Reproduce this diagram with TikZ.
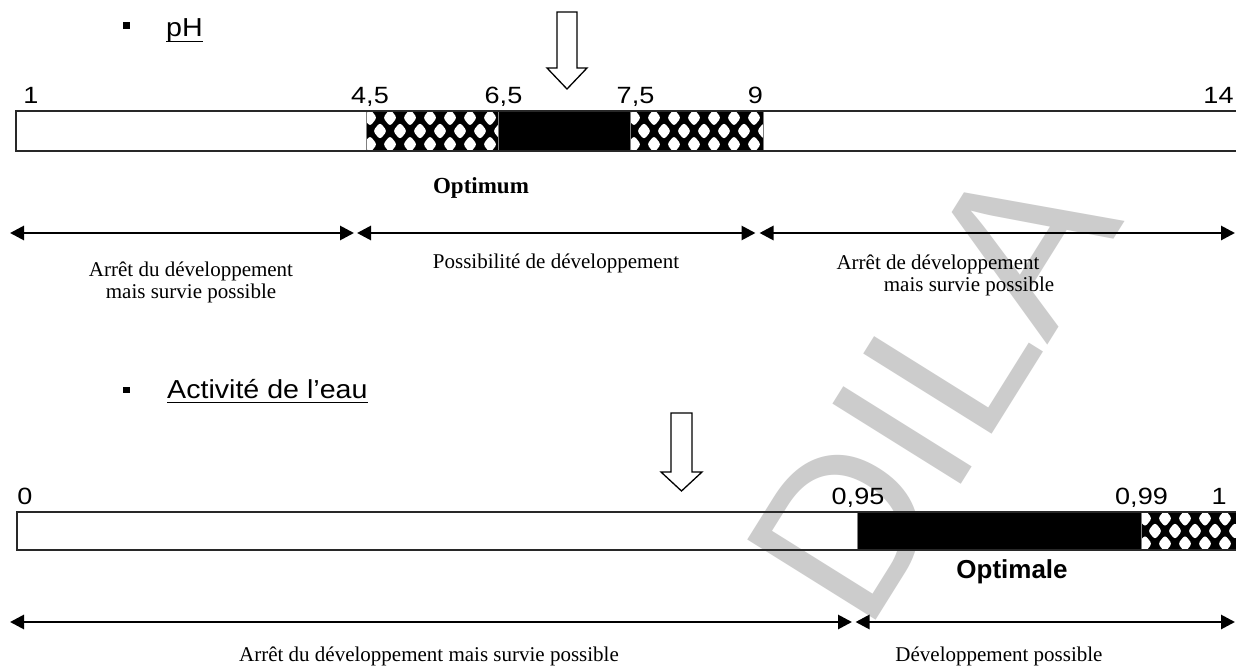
\documentclass[tikz,border=0pt]{standalone}
\usepackage{fontspec}
\setmainfont{Liberation Serif}
\newfontfamily\arialfont{Liberation Sans}
\usetikzlibrary{arrows.meta}

\definecolor{wm}{RGB}{204,204,204}
\definecolor{edge}{RGB}{40,40,40}

\tikzset{
  barline/.style={draw=edge, line width=1.2pt},
  segline/.style={draw=gray, line width=0.8pt},
  num/.style={anchor=base, inner sep=0pt, font=\arialfont\fontsize{23.5}{28}\selectfont},
  headtxt/.style={anchor=base west, inner sep=0pt, font=\arialfont\fontsize{26}{30}\selectfont},
  lbl/.style={anchor=base, inner sep=0pt, font=\fontsize{21}{25}\selectfont},
  span/.style={line width=2.8pt,
    {Triangle[length=14pt,width=14pt]}-{Triangle[length=14pt,width=14pt]}},
  pointer/.style={draw=black, line width=1.3pt, fill=white, line join=miter},
  bulletsq/.style={fill=black, inner sep=0pt, minimum size=6.5pt},
  uline/.style={line width=1.4pt},
}

% lattice fill: black ground with staggered rows of white lozenges
\newcommand\hatchfill[4]{%
  \begin{scope}
    \clip (#1,#2) rectangle (#3,#4);
    \fill[black] (#1,#2) rectangle (#3,#4);
    \pgfmathsetmacro\rowgap{(#4-#2)/3}
    \foreach \r in {-1,0,1,2,3}{
      \foreach \c in {-1,0,...,7}{
        \pgfmathsetmacro\cx{#1+4+20*\c+10*mod(\r+2,2)}
        \pgfmathsetmacro\cy{#2+\rowgap/2+\rowgap*\r}
        \fill[white, rounded corners=3pt] (\cx-7,\cy) -- (\cx,\cy-8.6)
          -- (\cx+7,\cy) -- (\cx,\cy+8.6) -- cycle;
      }}
  \end{scope}}

\begin{document}
\begin{tikzpicture}[x=1pt,y=-1pt]
\useasboundingbox (0,0) rectangle (1236,666);
\fill[white] (0,0) rectangle (1236,666);

% ---------- white grounds of the two scales ----------
\fill[white] (16,111) rectangle (1236,151);
\fill[white] (17,511) rectangle (1236,549);

% ---------- watermark ----------
\node[rotate=58, anchor=base west, inner sep=0pt, text=wm,
      font=\arialfont\fontsize{220}{220}\selectfont] (stamp) at (866,636) {DILA};

% ---------- pH ----------
\node[bulletsq] (b1) at (126.3,25.5) {};
\node[headtxt] (ph) at (166,37) {\scalebox{1.1}[1]{pH}};
\draw[uline] ([yshift=-4.5pt]ph.base west) -- ([yshift=-4.5pt]ph.base east);

\draw[pointer] (557,12) -- (577,12) -- (577,68) -- (587,68) -- (567,89)
  -- (547,68) -- (557,68) -- cycle;

\node[num] (n1)  at (31,104)   {\scalebox{1.15}[1]{1}};
\node[num] (n45) at (370,104)  {\scalebox{1.15}[1]{4,5}};
\node[num] (n65) at (503.5,104){\scalebox{1.15}[1]{6,5}};
\node[num] (n75) at (635.5,104){\scalebox{1.15}[1]{7,5}};
\node[num] (n9)  at (755.5,104){\scalebox{1.15}[1]{9}};
\node[num] (n14) at (1218.5,104){\scalebox{1.15}[1]{14}};

\hatchfill{366}{111}{498}{151}
\fill[black] (498,111) rectangle (630,151);
\hatchfill{630}{111}{763}{151}
\foreach \x in {366,498,630,763} \draw[segline] (\x,111) -- (\x,151);
\draw[barline] (1236,111) -- (16,111) -- (16,151) -- (1236,151);

\node[lbl, font=\bfseries\fontsize{23}{27}\selectfont] (opt) at (481,193) {Optimum};

\coordinate (pa) at (10,233);
\coordinate (pb) at (354,233);
\coordinate (pc) at (357,233);
\coordinate (pd) at (755.5,233);
\coordinate (pe) at (759.5,233);
\coordinate (pf) at (1235,233);
\draw[span] (pa) -- (pb);
\draw[span] (pc) -- (pd);
\draw[span] (pe) -- (pf);

\node[lbl] (l1a) at (191,276) {Arrêt du développement};
\node[lbl] (l1b) at (191,298) {mais survie possible};
\node[lbl] (l2)  at (556,268) {Possibilité de développement};
\node[lbl] (l3a) at (938,269) {Arrêt de développement};
\node[lbl] (l3b) at (969,291) {mais survie possible};

% ---------- Activité de l'eau ----------
\node[bulletsq] (b2) at (126.3,390) {};
\node[headtxt] (aw) at (167,398) {\scalebox{1.1}[1]{Activité de l’eau}};
\draw[uline] ([yshift=-4.5pt]aw.base west) -- ([yshift=-4.5pt]aw.base east);

\draw[pointer] (671,413) -- (692,413) -- (692,472) -- (702,472) -- (681.5,491)
  -- (661,472) -- (671,472) -- cycle;

\node[num] (m0)  at (25,504)    {\scalebox{1.15}[1]{0}};
\node[num] (m95) at (858,504)   {\scalebox{1.15}[1]{0,95}};
\node[num] (m99) at (1141.5,504){\scalebox{1.15}[1]{0,99}};
\node[num] (m1)  at (1219,504)  {\scalebox{1.15}[1]{1}};

\fill[black] (857,512) rectangle (1141,550);
\hatchfill{1141}{512}{1236}{550}
\foreach \x in {857,1141} \draw[segline] (\x,512) -- (\x,550);
\draw[barline] (1236,512) -- (17,512) -- (17,550) -- (1236,550);

\node[anchor=base, inner sep=0pt, font=\arialfont\bfseries\fontsize{26}{30}\selectfont]
  (optw) at (1012,578) {Optimale};

\coordinate (qa) at (10,622);
\coordinate (qb) at (852,622);
\coordinate (qc) at (855.5,622);
\coordinate (qd) at (1235,622);
\draw[span] (qa) -- (qb);
\draw[span] (qc) -- (qd);

\node[lbl] (k1) at (429,661) {Arrêt du développement mais survie possible};
\node[lbl] (k2) at (999,661) {Développement possible};
\end{tikzpicture}
\end{document}
